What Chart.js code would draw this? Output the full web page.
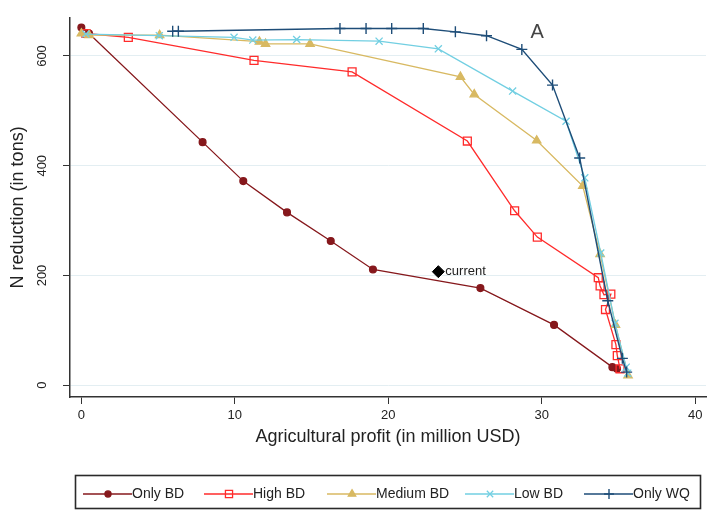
<!DOCTYPE html>
<html><head><meta charset="utf-8">
<script src="https://cdn.jsdelivr.net/npm/chart.js@4.4.1/dist/chart.umd.min.js"></script>
<style>html,body{margin:0;padding:0;background:#fff}#wrap{width:718px;height:511px;position:relative}</style>
</head><body><div id="wrap"><canvas id="c" width="718" height="511"></canvas></div>
<script>
// ---- data ----
const seriesNames = ['Only BD', 'High BD', 'Medium BD', 'Low BD', 'Only WQ'];

const onlyBDx = [0, 0.5, 7.9, 10.55, 13.4, 16.25, 19.0, 26.0, 30.8, 34.6, 34.9];
const onlyBDy = [652, 641, 443, 372, 315, 263, 211, 177, 110, 33, 30];

const highBDx = [0.3, 3.06, 11.25, 17.64, 25.15, 28.23, 29.71, 33.68, 33.8, 34.05, 34.5, 34.15, 34.83, 34.92, 35.1];
const highBDy = [641, 634, 592, 571, 445, 318, 270, 196, 181, 165, 166, 138, 74, 54, 30];

const mediumBDx = [0, 0.5, 5.1, 11.6, 12.0, 14.9, 24.7, 25.6, 29.67, 32.67, 33.8, 34.8, 35.62];
const mediumBDy = [641, 638, 638, 626, 622, 622, 562, 530, 446, 363, 239, 110, 18];

const lowBDx = [0.3, 5.08, 9.95, 11.17, 14.03, 19.4, 23.26, 28.1, 31.58, 32.8, 33.84, 34.77, 35.5, 35.6];
const lowBDy = [640, 637, 634, 629, 630, 627, 613, 536, 481, 378, 241, 113, 33, 22];

const onlyWQx = [5.95, 6.32, 16.85, 18.55, 20.22, 22.28, 24.37, 26.4, 28.7, 30.7, 32.47, 34.3, 35.25, 35.53];
const onlyWQy = [645, 645, 650, 650, 650, 650, 644, 637, 612, 547, 414, 154, 49, 24];

const currentX = [23.26];
const currentY = [207];
const currentLabel = 'current';

const panelLabel = 'A';
const panelLabelX = [29.7];
const panelLabelY = [643];

const xTicks = [0, 10, 20, 30, 40];
const yTicks = [0, 200, 400, 600];
const xTitle = 'Agricultural profit (in million USD)';
const yTitle = 'N reduction (in tons)';

// ---- styles ----
const FONT = '"Liberation Sans", Arial, sans-serif';
const styles = [
  {color: '#86181c', fill: '#86181c', pointStyle: 'circle', radius: 3.4, width: 1.3},
  {color: '#ff2b2b', fill: 'rgba(255,255,255,0)', pointStyle: 'rect', radius: 5.6, width: 1.3},
  {color: '#d8b962', fill: '#d8b962', pointStyle: 'triangle', radius: 4.8, width: 1.3},
  {color: '#72cfe2', fill: '#72cfe2', pointStyle: 'crossRot', radius: 5, width: 1.3},
  {color: '#1e4d78', fill: '#1e4d78', pointStyle: 'cross', radius: 5.5, width: 1.4}
];
const xs = [onlyBDx, highBDx, mediumBDx, lowBDx, onlyWQx];
const ys = [onlyBDy, highBDy, mediumBDy, lowBDy, onlyWQy];

function pts(a, b) { return a.map((v, i) => ({x: v, y: b[i]})); }

const datasets = seriesNames.map((name, i) => ({
  label: name,
  data: pts(xs[i], ys[i]),
  showLine: true,
  borderColor: styles[i].color,
  backgroundColor: styles[i].fill,
  pointBorderColor: styles[i].color,
  pointBackgroundColor: styles[i].fill,
  pointStyle: styles[i].pointStyle,
  pointRadius: styles[i].radius,
  pointBorderWidth: styles[i].width,
  borderWidth: styles[i].width,
  tension: 0,
  order: 4 - i
}));
datasets.push({
  label: currentLabel,
  data: pts(currentX, currentY),
  showLine: false,
  pointStyle: 'rectRot',
  pointRadius: 6,
  pointBackgroundColor: '#000',
  pointBorderColor: '#000',
  pointBorderWidth: 1,
  order: -1
});

function drawMarker(ctx, st, x, y) {
  if (Chart.helpers && Chart.helpers.drawPoint) {
    ctx.save();
    ctx.strokeStyle = st.color; ctx.fillStyle = st.fill; ctx.lineWidth = st.width;
    Chart.helpers.drawPoint(ctx, {pointStyle: st.pointStyle, radius: st.radius * 0.9, rotation: 0, borderWidth: st.width}, x, y);
    ctx.restore();
  }
}

const annotationPlugin = {
  id: 'extras',
  afterDatasetsDraw(chart) {
    const ctx = chart.ctx;
    const sx = chart.scales.x, sy = chart.scales.y;
    ctx.save();
    ctx.font = '13px ' + FONT;
    ctx.fillStyle = '#222';
    ctx.textAlign = 'left';
    ctx.textBaseline = 'middle';
    ctx.fillText(currentLabel, sx.getPixelForValue(currentX[0]) + 7, sy.getPixelForValue(currentY[0]));
    ctx.font = '20px ' + FONT;
    ctx.fillStyle = '#444';
    ctx.textAlign = 'center';
    ctx.fillText(panelLabel, sx.getPixelForValue(panelLabelX[0]), sy.getPixelForValue(panelLabelY[0]));
    ctx.restore();
  },
  afterDraw(chart) {
    const ctx = chart.ctx;
    ctx.save();
    ctx.strokeStyle = '#2a2a2a';
    ctx.lineWidth = 1.6;
    ctx.strokeRect(75.5, 475.5, 625, 33);
    const starts = [83, 204, 327, 465, 584];
    const cy = 494;
    ctx.font = '14px ' + FONT;
    ctx.textBaseline = 'middle';
    ctx.textAlign = 'left';
    seriesNames.forEach((name, i) => {
      const st = styles[i];
      const x0 = starts[i];
      ctx.strokeStyle = st.color;
      ctx.lineWidth = st.width;
      ctx.beginPath(); ctx.moveTo(x0, cy); ctx.lineTo(x0 + 49, cy); ctx.stroke();
      drawMarker(ctx, st, x0 + 25, cy);
      ctx.fillStyle = '#222';
      ctx.fillText(name, x0 + 49, cy);
    });
    ctx.restore();
  }
};

new Chart(document.getElementById('c'), {
  type: 'scatter',
  data: {datasets},
  options: {
    responsive: false,
    animation: false,
    devicePixelRatio: 1,
    layout: {padding: {left: 0, right: 12, top: 10, bottom: 63}},
    plugins: {legend: {display: false}, tooltip: {enabled: false}},
    scales: {
      x: {
        type: 'linear', min: -0.74, max: 40.7,
        afterBuildTicks: s => { s.ticks = xTicks.map(v => ({value: v})); },
        afterFit: s => { s.height = 51; },
        ticks: {font: {size: 13, family: FONT}, color: '#222', padding: 4, maxRotation: 0, minRotation: 0},
        grid: {drawOnChartArea: false, drawTicks: true, tickLength: 7, tickColor: '#333', tickWidth: 1},
        border: {color: '#333', width: 1.5},
        title: {display: true, text: xTitle, font: {size: 18, family: FONT}, color: '#222', padding: 0}
      },
      y: {
        type: 'linear', min: -21.4, max: 669.6,
        afterBuildTicks: s => { s.ticks = yTicks.map(v => ({value: v})); },
        afterFit: s => { s.width = 70; },
        ticks: {font: {size: 13, family: FONT}, color: '#222', padding: 10, minRotation: 90, maxRotation: 90, crossAlign: 'center'},
        grid: {color: '#e3eef2', lineWidth: 1, drawTicks: true, tickLength: 7, tickColor: '#333', tickWidth: 1},
        border: {color: '#333', width: 1.5},
        title: {display: true, text: yTitle, font: {size: 18, family: FONT}, color: '#222', padding: {top: 7, bottom: 0}}
      }
    }
  },
  plugins: [annotationPlugin]
});
</script>
</body></html>
